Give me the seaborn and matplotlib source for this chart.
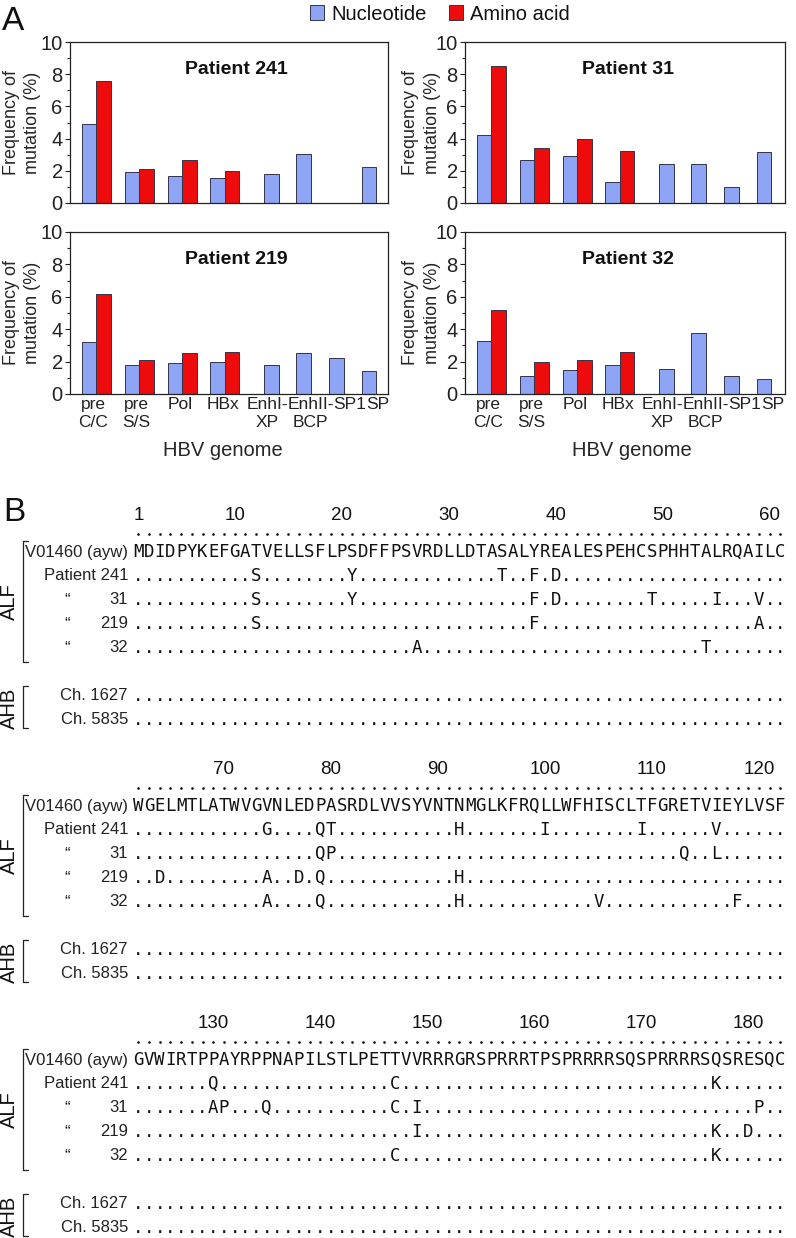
import numpy as np
import pandas as pd
import matplotlib
matplotlib.use("Agg")
import matplotlib.pyplot as plt
from matplotlib.colors import ListedColormap
import seaborn as sns

# ---------------- panel A: mutation frequency (%) ----------------
regions = ["pre\nC/C", "pre\nS/S", "Pol", "HBx", "EnhI-\nXP", "EnhII-\nBCP", "SP1", "SP"]
patients = ["Patient 241", "Patient 31", "Patient 219", "Patient 32"]

nt_241 = [4.9, 1.9, 1.7, 1.55, 1.8, 3.05, None, 2.25]
aa_241 = [7.6, 2.1, 2.65, 2.0, None, None, None, None]
nt_31 = [4.25, 2.65, 2.9, 1.3, 2.4, 2.45, 1.0, 3.15]
aa_31 = [8.5, 3.4, 4.0, 3.25, None, None, None, None]
nt_219 = [3.2, 1.8, 1.9, 2.0, 1.8, 2.5, 2.25, 1.4]
aa_219 = [6.2, 2.1, 2.5, 2.6, None, None, None, None]
nt_32 = [3.3, 1.1, 1.5, 1.8, 1.55, 3.75, 1.1, 0.95]
aa_32 = [5.2, 2.0, 2.1, 2.6, None, None, None, None]

series = ["Nucleotide", "Amino acid"]

# ---------------- panel B: core protein alignment ----------------
ref_seq = ("MDIDPYKEFGATVELLSFLPSDFFPSVRDLLDTASALYREALESPEHCSPHHTALRQAILC"
           "WGELMTLATWVGVNLEDPASRDLVVSYVNTNMGLKFRQLLWFHISCLTFGRETVIEYLVSF"
           "GVWIRTPPAYRPPNAPILSTLPETTVVRRRGRSPRRRTPSPRRRRSQSPRRRRSQSRESQC")
mut_241 = {12: "S", 21: "Y", 35: "T", 38: "F", 40: "D", 74: "G", 79: "Q", 80: "T",
           92: "H", 100: "I", 109: "I", 116: "V", 130: "Q", 147: "C", 177: "K"}
mut_31 = {12: "S", 21: "Y", 38: "F", 40: "D", 49: "T", 55: "I", 59: "V", 79: "Q", 80: "P",
          113: "Q", 116: "L", 130: "A", 131: "P", 135: "Q", 147: "C", 149: "I", 181: "P"}
mut_219 = {12: "S", 38: "F", 59: "A", 64: "D", 74: "A", 77: "D", 79: "Q", 92: "H",
           149: "I", 177: "K", 180: "D"}
mut_32 = {27: "A", 54: "T", 74: "A", 79: "Q", 92: "H", 105: "V", 118: "F", 147: "C", 177: "K"}
mut_1627 = {}
mut_5835 = {}
row_labels = ["", "V01460 (ayw)", "Patient 241", "31", "219", "32", "", "Ch. 1627", "Ch. 5835"]
block_starts = [1, 62, 123]
block_numbers = [[1, 10, 20, 30, 40, 50, 60],
                 [70, 80, 90, 100, 110, 120],
                 [130, 140, 150, 160, 170, 180]]

# ---------------- layout / style ----------------
W, H = 796, 1238
BLUE, RED, EDGE = "#8DA5F4", "#EE0B0B", "#33334a"
GROUP_X = [26.2, 69, 112, 154.7, 201.5, 233.5, 266.3, 298.8]   # px from axes left
LABEL_X = [23, 66, 110.5, 153, 197.5, 240.5, 279.5, 307.3]
BAR_W = 14.5
BLOCK_LEN, CELL_W, CELL_H, BLOCK_STEP = 61, 10.7, 24, 254

sns.set_theme(style="ticks", rc={"axes.edgecolor": "#222222", "axes.linewidth": 0.9,
                                 "xtick.color": "#222222", "ytick.color": "#222222",
                                 "text.color": "#111111"})
plt.rcParams["font.family"] = ["Liberation Sans", "DejaVu Sans"]

fig = plt.figure(figsize=(W / 100, H / 100), dpi=100)
fig.patch.set_facecolor("white")


def px_axes(x, y, w, h):
    return fig.add_axes([x / W, 1 - (y + h) / H, w / W, h / H])


def bar_frame(nt, aa):
    rows = []
    for i, reg in enumerate(regions):
        paired = aa[i] is not None
        if nt[i] is not None:
            rows.append((reg, "Nucleotide", nt[i], GROUP_X[i] - BAR_W / 2 if paired else GROUP_X[i]))
        if paired:
            rows.append((reg, "Amino acid", aa[i], GROUP_X[i] + BAR_W / 2))
    return pd.DataFrame(rows, columns=["region", "kind", "freq", "xpos"])


panel_data = [(nt_241, aa_241), (nt_31, aa_31), (nt_219, aa_219), (nt_32, aa_32)]
boxes = [(70, 42, 318, 161), (465, 42, 320, 161), (70, 232, 318, 162), (465, 232, 320, 162)]
handles = labels = None
for k, (name, (nt, aa), box) in enumerate(zip(patients, panel_data, boxes)):
    ax = px_axes(*box)
    df = bar_frame(nt, aa)
    sns.barplot(data=df, x="xpos", y="freq", hue="kind", hue_order=series,
                palette={"Nucleotide": BLUE, "Amino acid": RED}, native_scale=True,
                dodge=False, width=1, errorbar=None, saturation=1, orient="x",
                edgecolor=EDGE, linewidth=0.7, legend=(k == 0), ax=ax)
    if k == 0:
        leg = ax.get_legend()
        handles = leg.legend_handles
        labels = [t.get_text() for t in leg.texts]
        leg.remove()
    left_col = k % 2 == 0
    bottom_row = k >= 2
    ax.set_xlim(0, box[2])
    ax.set_ylim(0, 10)
    ax.set_yticks(range(0, 11, 2))
    ax.set_yticks(range(1, 10, 2), minor=True)
    ax.tick_params(axis="y", which="major", length=3.5, width=0.8, pad=1.8, labelsize=14.5)
    ax.tick_params(axis="y", which="minor", length=2.2, width=0.8)
    ax.set_xticks(LABEL_X)
    ax.set_xticklabels(regions if bottom_row else [])
    ax.tick_params(axis="x", length=0, pad=2.5, labelsize=12.5)
    ax.set_ylabel("Frequency of\nmutation (%)", fontsize=13, linespacing=1.35)
    ax.yaxis.set_label_coords(-0.091 if left_col else -0.075, 0.5)
    if bottom_row:
        ax.set_xlabel("HBV genome", fontsize=14.5)
        ax.xaxis.set_label_coords(0.48 if left_col else 0.52, -0.29)
    else:
        ax.set_xlabel("")
    ax.text(0.522 if left_col else 0.508, 0.80, name, transform=ax.transAxes,
            ha="center", va="baseline", fontsize=14, fontweight="bold")

fig.legend(handles, labels, loc="center", bbox_to_anchor=(440 / W, 1 - 14 / H), ncol=2,
           frameon=False, fontsize=14.5, handlelength=0.7, handleheight=0.7,
           handletextpad=0.35, columnspacing=1.1, borderaxespad=0, borderpad=0)

fig.text(2 / W, 1 - 6 / H, "A", fontsize=24, ha="left", va="top")
fig.text(3 / W, 1 - 497 / H, "B", fontsize=24, ha="left", va="top")

# ---------------- panel B ----------------
samples = [mut_241, mut_31, mut_219, mut_32]
for b, (start, numbers) in enumerate(zip(block_starts, block_numbers)):
    ref = ref_seq[start - 1:start - 1 + BLOCK_LEN]
    grid = [[""] * BLOCK_LEN, list(ref)]
    for muts in samples:
        grid.append([muts.get(start + i, ".") for i in range(BLOCK_LEN)])
    grid.append([""] * BLOCK_LEN)
    for muts in (mut_1627, mut_5835):
        grid.append([muts.get(start + i, ".") for i in range(BLOCK_LEN)])
    grid = np.array(grid, dtype=object)

    ax = px_axes(133, 516 + b * BLOCK_STEP, BLOCK_LEN * CELL_W, len(row_labels) * CELL_H)
    sns.heatmap(np.zeros(grid.shape), annot=grid, fmt="", cmap=ListedColormap(["white"]),
                vmin=0, vmax=1, cbar=False, xticklabels=False, yticklabels=row_labels,
                annot_kws=dict(family="DejaVu Sans Mono", size=12.5, color="#111111"), ax=ax)
    ax.set_yticklabels(row_labels, rotation=0, fontsize=12)
    ax.tick_params(axis="y", length=0, pad=3.6)
    ax.set_xlabel("")
    ax.set_ylabel("")

    # dotted ruler under the position numbers
    ax.scatter(np.arange(BLOCK_LEN) + 0.5, np.full(BLOCK_LEN, 0.74), s=3.6,
               color="#111111", linewidths=0, clip_on=False)
    for n in numbers:
        ax.text(n - start + 0.5, 0.17, str(n), ha="center", va="baseline", fontsize=13.5)
    for r in (3, 4, 5):
        ax.text(-6.2, r + 0.5, "\u201c", ha="center", va="center", fontsize=12)

    xb, xt = -10.31, -9.81
    ax.plot([xt, xb, xb, xt], [1.04, 1.04, 6.08, 6.08], color="#222222", lw=0.9, clip_on=False)
    ax.plot([xt, xb, xb, xt], [7.1, 7.1, 8.85, 8.85], color="#222222", lw=0.9, clip_on=False)
    ax.text(-11.5, 3.56, "ALF", rotation=90, ha="center", va="center", fontsize=14.5)
    ax.text(-11.5, 8.0, "AHB", rotation=90, ha="center", va="center", fontsize=14.5)

fig.savefig("out.png", dpi=100, facecolor="white")
